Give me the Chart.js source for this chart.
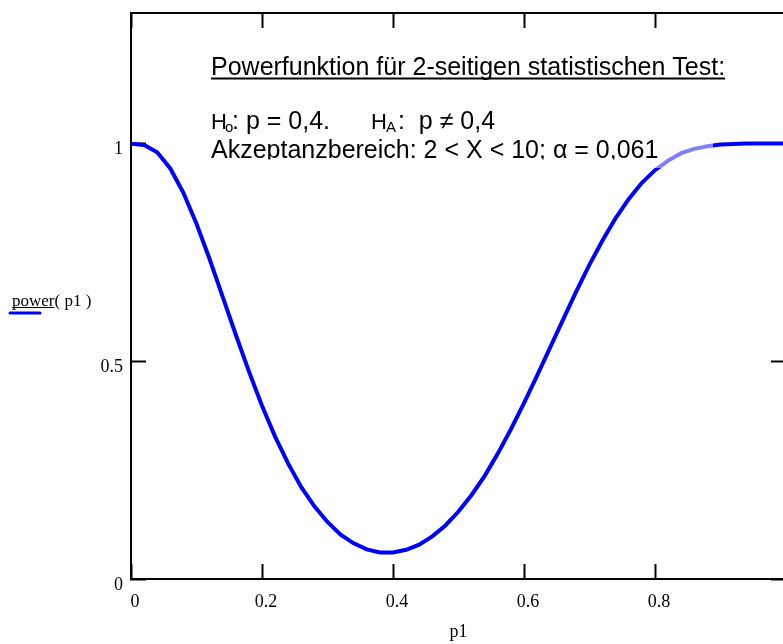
<!DOCTYPE html>
<html>
<head>
<meta charset="utf-8">
<script src="https://cdn.jsdelivr.net/npm/chart.js@4/dist/chart.umd.min.js"></script>
<style>
  html, body { margin: 0; padding: 0; background: #fff; overflow: hidden; }
  canvas { display: block; }
</style>
</head>
<body>
<canvas id="c" width="800" height="644"></canvas>
<script>
// ---- data ----
const pValues = [0.00,0.02,0.04,0.06,0.08,0.10,0.12,0.14,0.16,0.18,
                 0.20,0.22,0.24,0.26,0.28,0.30,0.32,0.34,0.36,0.38,
                 0.40,0.42,0.44,0.46,0.48,0.50,0.52,0.54,0.56,0.58,
                 0.60,0.62,0.64,0.66,0.68,0.70,0.72,0.74,0.76,0.78,
                 0.80,0.82,0.84,0.86,0.88,0.90,0.92,0.94,0.96,0.98,1.00];
const powerValues = [1.000,0.997,0.980,0.943,0.887,0.816,0.735,0.648,0.561,0.477,
                     0.398,0.327,0.265,0.211,0.167,0.131,0.102,0.082,0.068,0.061,
                     0.061,0.067,0.079,0.098,0.123,0.155,0.193,0.237,0.288,0.344,
                     0.404,0.467,0.532,0.597,0.661,0.722,0.778,0.829,0.873,0.910,
                     0.939,0.961,0.978,0.988,0.994,0.998,0.999,1.000,1.000,1.000,1.000];
const xTicks = [0, 0.2, 0.4, 0.6, 0.8, 1];
const yTicks = [0, 0.5, 1];
const xTitle = 'p1';
const seriesLabel = 'power( p1 )';
const titleText = 'Powerfunktion für 2-seitigen statistischen Test:';
const akzeptText = 'Akzeptanzbereich: 2 < X < 10; α = 0,061';

const points = pValues.map((p, i) => ({ x: p, y: powerValues[i] }));

const serif = "'Liberation Serif', 'Times New Roman', serif";
const sans = "'Liberation Sans', Arial, sans-serif";

const gridCommon = {
  drawOnChartArea: false,
  drawTicks: true,
  tickLength: -15,
  tickWidth: 2,
  color: '#000'
};
const borderCommon = { display: true, color: '#000', width: 2 };

function fixSize(prop, val) {
  return s => {
    s[prop] = val;
    s.paddingLeft = 0; s.paddingRight = 0; s.paddingTop = 0; s.paddingBottom = 0;
  };
}

const annotationPlugin = {
  id: 'annot',
  afterDatasetsDraw(chart) {
    const ctx = chart.ctx;
    ctx.save();
    // text box background (lightens the curve beneath it)
    ctx.fillStyle = 'rgba(255,255,255,0.5)';
    ctx.fillRect(205, 40, 508, 128);
    ctx.fillStyle = '#000';
    ctx.textBaseline = 'alphabetic';
    ctx.textAlign = 'left';
    // title, underlined
    ctx.font = '25px ' + sans;
    ctx.fillText(titleText, 211, 75);
    const tw = ctx.measureText(titleText).width;
    ctx.fillRect(211, 77.5, tw, 2);
    // hypotheses line
    ctx.font = '22px ' + sans;
    ctx.fillText('H', 211, 129);
    ctx.font = '15px ' + sans;
    ctx.fillText('o', 225, 132);
    ctx.font = '25px ' + sans;
    ctx.fillText(': p = 0,4.', 232, 129);
    ctx.font = '22px ' + sans;
    ctx.fillText('H', 371, 129);
    ctx.font = '15px ' + sans;
    ctx.fillText('A', 386, 132);
    ctx.font = '25px ' + sans;
    ctx.fillText(':  p \u2260 0,4', 398, 129);
    // acceptance region line, clipped at the bottom of the box
    ctx.save();
    ctx.beginPath();
    ctx.rect(205, 135, 520, 24.5);
    ctx.clip();
    ctx.fillText(akzeptText, 211, 157.5);
    ctx.restore();
    ctx.restore();
  },
  afterDraw(chart) {
    const ctx = chart.ctx;
    ctx.save();
    ctx.fillStyle = '#000';
    ctx.font = '17px ' + serif;
    ctx.textBaseline = 'alphabetic';
    ctx.textAlign = 'left';
    ctx.fillText(seriesLabel, 12, 306);
    const w = ctx.measureText('power').width;
    ctx.fillRect(12, 307, w, 1);
    ctx.strokeStyle = '#0000ff';
    ctx.lineWidth = 3;
    ctx.lineCap = 'round';
    ctx.beginPath();
    ctx.moveTo(10, 313);
    ctx.lineTo(40, 313);
    ctx.stroke();
    ctx.restore();
  }
};

new Chart(document.getElementById('c'), {
  type: 'line',
  data: {
    datasets: [{
      label: seriesLabel,
      data: points,
      borderColor: '#0000ff',
      borderWidth: 4,
      pointRadius: 0,
      tension: 0,
      fill: false
    }]
  },
  options: {
    responsive: false,
    animation: false,
    layout: { autoPadding: false, padding: { top: 13, right: 14, left: 0, bottom: 0 } },
    plugins: { legend: { display: false }, tooltip: { enabled: false } },
    scales: {
      x: {
        type: 'linear', position: 'bottom', min: 0, max: 1,
        afterBuildTicks: s => { s.ticks = xTicks.map(v => ({ value: v })); },
        afterFit: fixSize('height', 65),
        grid: gridCommon, border: borderCommon,
        ticks: {
          color: '#000', font: { family: serif, size: 18 },
          padding: 27, labelOffset: 4, maxRotation: 0, autoSkip: false,
          callback: v => String(v)
        },
        title: {
          display: true, text: xTitle, color: '#000',
          font: { family: serif, size: 18 }, padding: { top: 0, bottom: 1 }
        }
      },
      x2: {
        type: 'linear', position: 'top', min: 0, max: 1,
        afterBuildTicks: s => { s.ticks = xTicks.map(v => ({ value: v })); },
        afterFit: fixSize('height', 0),
        grid: gridCommon, border: borderCommon,
        ticks: { display: false }
      },
      y: {
        type: 'linear', position: 'left', min: 0, max: 1.3,
        afterBuildTicks: s => { s.ticks = yTicks.map(v => ({ value: v })); },
        afterFit: fixSize('width', 131),
        grid: gridCommon, border: borderCommon,
        ticks: {
          color: '#000', font: { family: serif, size: 18 },
          padding: 23, labelOffset: 6, autoSkip: false,
          callback: v => String(v)
        }
      },
      y2: {
        type: 'linear', position: 'right', min: 0, max: 1.3,
        afterBuildTicks: s => { s.ticks = yTicks.map(v => ({ value: v })); },
        afterFit: fixSize('width', 0),
        grid: gridCommon, border: borderCommon,
        ticks: { display: false }
      }
    }
  },
  plugins: [annotationPlugin]
});
</script>
</body>
</html>
